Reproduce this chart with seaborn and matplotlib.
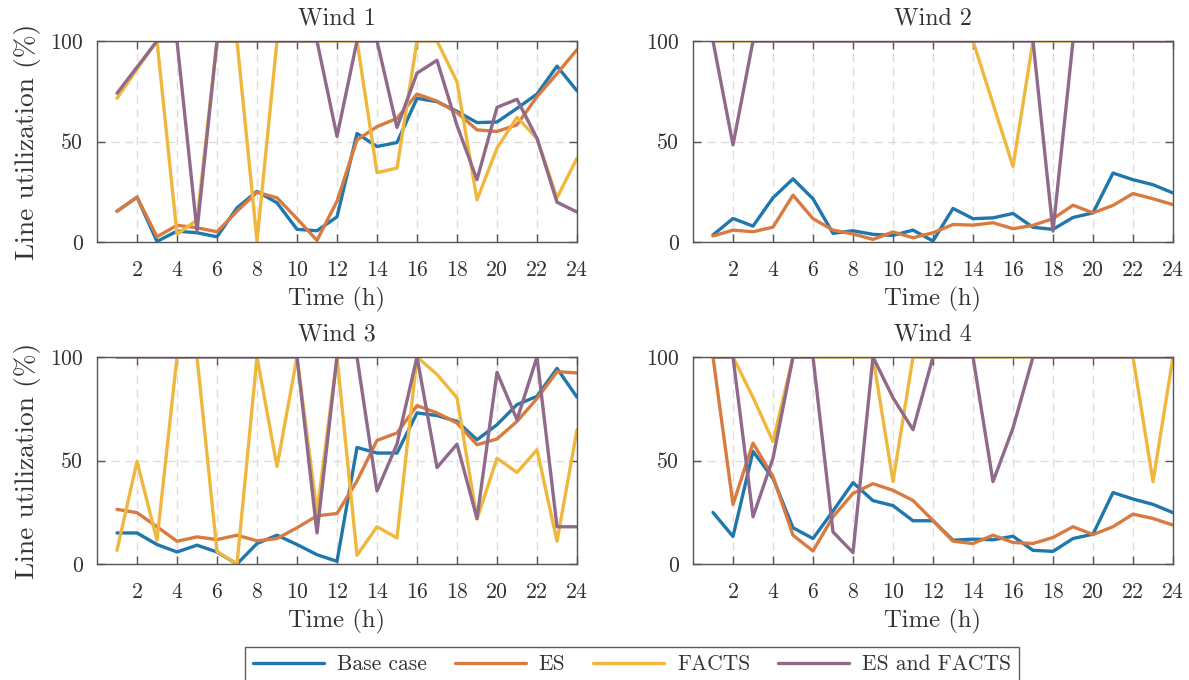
import numpy as np
import pandas as pd
import matplotlib
matplotlib.use("Agg")
import matplotlib.pyplot as plt
import seaborn as sns

hours = list(range(1, 25))
series_names = ["Base case", "ES", "FACTS", "ES and FACTS"]
panel_titles = ["Wind 1", "Wind 2", "Wind 3", "Wind 4"]
xtick_labels = [2, 4, 6, 8, 10, 12, 14, 16, 18, 20, 22, 24]
ytick_labels = [0, 50, 100]

# Wind 1
w1_base = [15.3, 22.3, 0.3, 5.4, 4.6, 2.6, 17, 25.2, 19.5, 6.3, 5.6, 12.5, 54, 47.5, 49.5, 71.5, 69.8, 65, 59.4, 59.7, 66.5, 73.6, 87.5, 75.2]
w1_es = [15.3, 22.3, 2.6, 8.3, 7.1, 5.1, 15.3, 24.8, 22, 11.6, 0.8, 20.3, 50.8, 57.4, 61.5, 73.6, 70.1, 64.4, 55.8, 55, 58.3, 72.3, 83.8, 95.7]
w1_facts = [71.5, 86, 100, 3.8, 11, 100, 100, 0.5, 100, 100, 100, 100, 100, 34.5, 36.8, 100, 100, 79.7, 21, 46.7, 62, 51.6, 22, 41.7]
w1_both = [74, 87, 100, 100, 5.4, 100, 100, 100, 100, 100, 100, 52.5, 100, 100, 57, 84, 90.4, 58, 31, 67, 71, 51.6, 19.8, 14.9]

# Wind 2
w2_base = [3.5, 11.7, 7.9, 22, 31.4, 21.5, 4.3, 5.6, 3.8, 3.3, 5.9, 0.5, 16.7, 11.6, 12, 14.2, 7.3, 6.3, 12.2, 14.5, 34.3, 31, 28.5, 24.4]
w2_es = [3, 5.9, 5.1, 7.4, 23.3, 11.6, 5.9, 4, 1.3, 5, 2.1, 4.6, 8.7, 8.4, 9.6, 6.6, 8.3, 11.6, 18.3, 14.5, 18.2, 24.1, 21.5, 18.6]
w2_facts = [100, 100, 100, 100, 100, 100, 100, 100, 100, 100, 100, 100, 100, 100, 68.8, 37.6, 100, 100, 100, 100, 100, 100, 100, 100]
w2_both = [100, 48.3, 100, 100, 100, 100, 100, 100, 100, 100, 100, 100, 100, 100, 100, 100, 100, 5.4, 100, 100, 100, 100, 100, 100]

# Wind 3
w3_base = [15, 15, 9.4, 5.8, 9.1, 5.8, 0, 9.9, 13.9, 9.4, 4.5, 1.3, 56.3, 53.6, 53.6, 73, 71.7, 68.9, 60, 67.3, 77, 81, 94.5, 80.6]
w3_es = [26.4, 24.8, 18, 11, 13.1, 11.8, 13.9, 11.2, 12.3, 17.5, 23.3, 24.4, 40.1, 59.7, 63.3, 76.5, 73, 68.1, 57.6, 60.4, 68.9, 79.9, 92.9, 92.3]
w3_facts = [6.6, 49.5, 11.5, 100, 100, 6.1, 0, 100, 47.1, 100, 25, 100, 4.2, 18, 12.6, 100, 91.6, 80.3, 21.7, 51.1, 44.2, 55.2, 11, 64.9]
w3_both = [100, 100, 100, 100, 100, 100, 100, 100, 100, 100, 15, 100, 100, 35.3, 58, 100, 46.6, 57.9, 22, 92.6, 69.7, 100, 18, 18]

# Wind 4
w4_base = [24.9, 13.3, 54.4, 41.4, 17.5, 12.3, 25.6, 39.3, 30.6, 28.2, 20.9, 20.9, 11.5, 12, 11.7, 13.4, 6.6, 6.1, 12.3, 14.4, 34.5, 31.4, 28.8, 24.8]
w4_es = [100, 28.8, 58.4, 42.2, 13.9, 6.3, 22.8, 34.1, 38.8, 35.6, 30.7, 21, 11, 9.9, 13.9, 10.4, 9.9, 12.8, 18, 14.2, 18, 24.1, 22, 18.8]
w4_facts = [100, 100, 80.5, 59.2, 100, 100, 100, 100, 100, 39.8, 100, 100, 100, 100, 100, 100, 100, 100, 100, 100, 100, 100, 39.8, 100]
w4_both = [100, 100, 22.8, 51.1, 100, 100, 15.5, 5.5, 100, 80.3, 64.9, 100, 100, 100, 39.8, 65.7, 100, 100, 100, 100, 100, 100, 100, 100]

panels = [
    (w1_base, w1_es, w1_facts, w1_both),
    (w2_base, w2_es, w2_facts, w2_both),
    (w3_base, w3_es, w3_facts, w3_both),
    (w4_base, w4_es, w4_facts, w4_both),
]

colors = ["#1f77ab", "#d97b40", "#efb73d", "#8f6a8b"]
palette = dict(zip(series_names, colors))

sns.set_theme(style="ticks")
plt.rcParams["font.family"] = ["cmr10", "DejaVu Serif"]
plt.rcParams["mathtext.fontset"] = "cm"
plt.rcParams["axes.formatter.use_mathtext"] = True
plt.rcParams["axes.unicode_minus"] = False

FS_TICK = 15.7
FS_TITLE = 17.3
FS_XLAB = 17.8
FS_YLAB = 19.8
FS_LEG = 15.5
TXT = "#333333"

fig = plt.figure(figsize=(11.89, 6.80), dpi=100)
W, H = 1189.0, 680.0
lefts = [97, 693, 97, 693]
rights = [577, 1173, 577, 1173]
tops = [41, 41, 357, 357]
bottoms = [242, 242, 564, 564]

handles = None
for i, (vals, title) in enumerate(zip(panels, panel_titles)):
    ax = fig.add_axes([lefts[i] / W, 1 - bottoms[i] / H,
                       (rights[i] - lefts[i]) / W, (bottoms[i] - tops[i]) / H])
    df = pd.DataFrame({
        "Time": hours * 4,
        "Utilization": sum([list(v) for v in vals], []),
        "Scenario": sum([[n] * len(hours) for n in series_names], []),
    })
    sns.lineplot(data=df, x="Time", y="Utilization", hue="Scenario",
                 hue_order=series_names, palette=palette, linewidth=2.4,
                 ax=ax, legend=(i == 0), clip_on=True)
    if i == 0:
        handles, labels = ax.get_legend_handles_labels()
        ax.get_legend().remove()
    ax.set_xlim(0, 24)
    ax.set_ylim(0, 100)
    ax.set_xticks(xtick_labels)
    ax.set_xticklabels([str(t) for t in xtick_labels])
    ax.set_yticks(ytick_labels)
    ax.set_yticklabels([str(t) for t in ytick_labels])
    ax.grid(True, linestyle=(0, (6, 4)), color="#dddddd", linewidth=1.0)
    ax.set_axisbelow(True)
    ax.tick_params(direction="in", length=6, width=1.0, top=True, right=True,
                   labelsize=FS_TICK, colors="#555555", labelcolor=TXT)
    ax.tick_params(axis="x", pad=13)
    ax.tick_params(axis="y", pad=10)
    for s in ax.spines.values():
        s.set_color("#555555")
        s.set_linewidth(1.0)
    ax.set_title(title, fontsize=FS_TITLE, color=TXT, pad=12)
    ax.set_xlabel("Time (h)", fontsize=FS_XLAB, color=TXT, labelpad=5)
    if i % 2 == 0:
        ax.set_ylabel("Line utilization (%)", fontsize=FS_YLAB, color=TXT, labelpad=7)
    else:
        ax.set_ylabel("")

leg = fig.legend(handles, labels, loc="upper center", ncol=4,
                 bbox_to_anchor=(632 / W, 1 - 647 / H), fontsize=FS_LEG,
                 frameon=True, fancybox=False, edgecolor="#333333",
                 handlelength=3.3, columnspacing=1.3, handletextpad=0.6,
                 borderpad=0.35, borderaxespad=0.0, labelcolor=TXT)
leg.get_frame().set_linewidth(1.0)
for h in leg.legend_handles:
    h.set_linewidth(2.4)

fig.savefig("out.png", dpi=100)
